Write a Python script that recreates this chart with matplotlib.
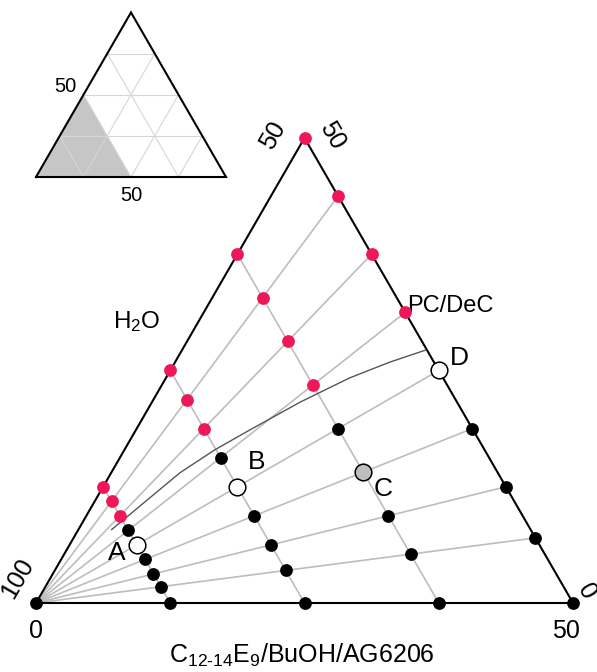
import numpy as np
import matplotlib.pyplot as plt

plt.rcParams["font.family"] = ["Liberation Sans", "DejaVu Sans"]
plt.rcParams["mathtext.fontset"] = "custom"
plt.rcParams["mathtext.rm"] = "Liberation Sans"
plt.rcParams["mathtext.it"] = "Liberation Sans:italic"

RED = "#EE1757"
GREY = "#BDBDBD"
SQ = np.sqrt(3) / 2

# surfactant + oil content of each sample line (water = 1 - total)
line_totals = [0.125, 0.25, 0.375, 0.5]
# oil / (oil + surfactant) along the dilution rays
oil_ratios = [1.0, 0.875, 0.75, 0.625, 0.5, 0.375, 0.25, 0.14, 0.0]
# smallest oil ratio that is still one-phase (red) on each line
red_from = [0.75, 0.75, 0.625, 0.625]

sample_names = ["A", "B", "C", "D"]
sample_totals = [0.125, 0.25, 0.375, 0.5]
sample_ratios = [0.5, 0.5, 0.375, 0.5]
sample_faces = ["white", "white", "#BEBEBE", "white"]
sample_offsets = [(-14, -6), (14, 18), (14, -12), (15, 9)]

# phase boundary (surfactant, oil fractions)
bound_surf = [0.031, 0.064, 0.084, 0.106, 0.138, 0.171, 0.200, 0.227]
bound_oil = [0.079, 0.140, 0.1645, 0.186, 0.216, 0.242, 0.259, 0.272]


def tern(surf, oil):
    surf = np.asarray(surf, dtype=float)
    oil = np.asarray(oil, dtype=float)
    return surf + oil / 2, oil * SQ


def comp(total, ratio):
    return total * (1 - ratio), total * ratio


fig = plt.figure(figsize=(5.97, 6.72), dpi=100)

# main diagram: water corner at bottom left, 50 % cut
ax = fig.add_axes([0, 0, 1, 1])
ax.set_xlim(-36 / 1074, 561 / 1074)
ax.set_ylim(-69 / 1074, 603 / 1074)
ax.axis("off")

line_kw = dict(color=GREY, lw=1.2, zorder=1)
for r in oil_ratios[1:-1]:
    x, y = tern(*comp(0.5, r))
    ax.plot([0, x], [0, y], **line_kw)
for t in line_totals[:-1]:
    x, y = tern([0, t], [t, 0])
    ax.plot(x, y, **line_kw)

x, y = tern([0, 0.5, 0, 0], [0, 0, 0.5, 0])
ax.plot(x, y, color="black", lw=1.5, zorder=2, solid_joinstyle="miter")

x, y = tern(bound_surf, bound_oil)
ax.plot(x, y, color="#555555", lw=1.0, zorder=2)

dot_kw = dict(ls="none", marker="o", ms=9.2, mec="none", zorder=4)
x, y = tern(0, 0)
ax.plot(x, y, color="black", **dot_kw)
for t, lim in zip(line_totals, red_from):
    for r in oil_ratios:
        if any(t == st and r == sr for st, sr in zip(sample_totals, sample_ratios)):
            continue
        x, y = tern(*comp(t, r))
        ax.plot(x, y, color=RED if r >= lim else "black", **dot_kw)

for name, t, r, fc, off in zip(sample_names, sample_totals, sample_ratios,
                               sample_faces, sample_offsets):
    x, y = tern(*comp(t, r))
    ax.plot(x, y, ls="none", marker="o", ms=12, mfc=fc, mec="black",
            mew=1.1, zorder=5)
    ax.annotate(name, (x, y), xytext=off, textcoords="offset points",
                ha="center", va="center", fontsize=19)

tick_kw = dict(textcoords="offset points", ha="center", va="center", fontsize=18)
ax.annotate("0", tern(0, 0), xytext=(0, -20), **tick_kw)
ax.annotate("50", tern(0.5, 0), xytext=(-5, -20), **tick_kw)
ax.annotate("100", tern(0, 0), xytext=(-13, 18), rotation=60, **tick_kw)
ax.annotate("0", tern(0.5, 0), xytext=(10, 8), rotation=-60, **tick_kw)
ax.annotate("50", tern(0, 0.5), xytext=(-23, 2), rotation=60, **tick_kw)
ax.annotate("50", tern(0, 0.5), xytext=(20, 2), rotation=-60, **tick_kw)
ax.annotate(r"C$_{12\text{-}14}$E$_9$/BuOH/AG6206", tern(0.25, 0),
            xytext=(-2, -38), **tick_kw)

ax.text((137 - 36) / 1074, (603 - 322) / 1074, r"H$_2$O", ha="center",
        va="center", fontsize=17.5)
ax.text((450 - 36) / 1074, (603 - 306) / 1074, "PC/DeC", ha="center",
        va="center", fontsize=17)

# full triangle showing where the main diagram sits
ins = fig.add_axes([20 / 597, 472 / 672, 220 / 597, 200 / 672])
ins.set_xlim(-16 / 190, 204 / 190)
ins.set_ylim(-23 / 190, 177 / 190)
ins.axis("off")

x, y = tern([0, 0, 0.5], [0, 0.5, 0])
ins.fill(x, y, color="#C6C6C6", lw=0, zorder=1)
for k in [0.25, 0.5, 0.75]:
    for s, o in [([0, 1 - k], [k, k]), ([k, k], [0, 1 - k]),
                 ([1 - k, 0], [0, 1 - k])]:
        x, y = tern(s, o)
        ins.plot(x, y, color="#D6D6D6", lw=0.8, zorder=2)
x, y = tern([0, 1, 0, 0], [0, 0, 1, 0])
ins.plot(x, y, color="black", lw=1.5, zorder=3, solid_joinstyle="miter")
ins.annotate("50", tern(0, 0.5), xytext=(-13, 6), textcoords="offset points",
             ha="center", va="center", fontsize=14.5)
ins.annotate("50", tern(0.5, 0), xytext=(0, -13), textcoords="offset points",
             ha="center", va="center", fontsize=14.5)

fig.savefig("out.png", dpi=100)
